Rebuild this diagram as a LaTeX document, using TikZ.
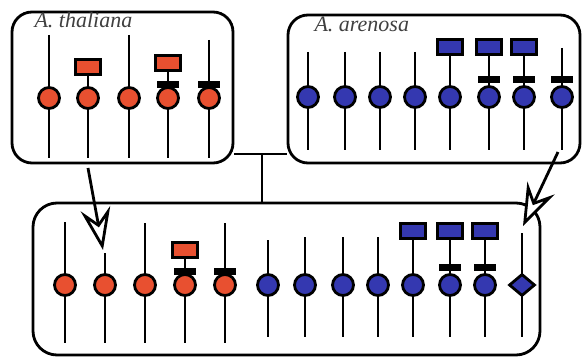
\documentclass[tikz,border=0pt]{standalone}
\usepackage{fontspec}
\setmainfont{Liberation Serif}
\usetikzlibrary{arrows.meta,shapes.geometric}
\definecolor{budred}{RGB}{232,80,48}
\definecolor{budblue}{RGB}{52,56,176}

\begin{document}
\begin{tikzpicture}[x=1pt,y=-1pt,
  panel/.style={draw,line width=2.8pt,rounded corners=20pt,inner sep=0pt},
  tag/.style={anchor=base west,text=black!75,font=\fontsize{22}{24}\selectfont\itshape},
  stalk/.style={line width=2.4pt},
  redbud/.style={draw,circle,line width=2.8pt,fill=budred,minimum size=21pt,inner sep=0pt},
  bluebud/.style={redbud,fill=budblue},
  redflag/.style={draw,rectangle,line width=2.4pt,fill=budred,minimum width=25pt,minimum height=15pt,inner sep=0pt},
  blueflag/.style={redflag,fill=budblue},
  bar/.style={fill=black,rectangle,minimum width=22pt,minimum height=7pt,inner sep=0pt},
  cross/.style={line width=2.8pt,-{Stealth[length=42pt,width=30pt,inset=15pt,fill=white]}}]
	\useasboundingbox (0,0) rectangle (583,358);
	% parents and hybrid
	\node[panel,minimum width=221pt,minimum height=151pt] (thal) at (122.5,87.5) {};
	\node[panel,minimum width=292pt,minimum height=148pt] (aren) at (434,89) {};
	\node[panel,minimum width=507pt,minimum height=152pt,rounded corners=24pt] (hyb) at (286.5,279) {};
	\node[tag] (thallab) at (31,28) {A. thaliana};
	\node[tag] (arenlab) at (311,32) {A. arenosa};
	\coordinate (jn) at (262,154);
	\draw[stalk] (thal.east |- jn) -- (aren.west |- jn);
	\draw[stalk] (jn) -- (jn |- hyb.north);
	% flags
	\node[redflag] (tf2) at (88,67) {};
	\node[redflag] (tf4) at (168,63) {};
	\node[blueflag] (af5) at (450,47) {};
	\node[blueflag] (af6) at (489,47) {};
	\node[blueflag] (af7) at (524,47) {};
	\node[redflag] (hf4) at (185,250) {};
	\node[blueflag] (hf10) at (413,231) {};
	\node[blueflag] (hf11) at (450,231) {};
	\node[blueflag] (hf12) at (485,231) {};
	% stalks
	\draw[stalk] (49,35) -- (49,158);
	\draw[stalk] (tf2.south) -- (88,158);
	\draw[stalk] (129,35) -- (129,158);
	\draw[stalk] (tf4.south) -- (168,158);
	\draw[stalk] (209,40) -- (209,158);
	\draw[stalk] (308,52) -- (308,150);
	\draw[stalk] (345,52) -- (345,150);
	\draw[stalk] (380,52) -- (380,150);
	\draw[stalk] (415,52) -- (415,150);
	\draw[stalk] (af5.south) -- (450,150);
	\draw[stalk] (af6.south) -- (489,150);
	\draw[stalk] (af7.south) -- (524,150);
	\draw[stalk] (562,48) -- (562,150);
	\draw[stalk] (65,222) -- (65,343);
	\draw[stalk] (105,253) -- (105,343);
	\draw[stalk] (145,223) -- (145,343);
	\draw[stalk] (hf4.south) -- (185,343);
	\draw[stalk] (225,223) -- (225,343);
	\draw[stalk] (268,240) -- (268,337);
	\draw[stalk] (305,237) -- (305,337);
	\draw[stalk] (343,237) -- (343,337);
	\draw[stalk] (378,237) -- (378,337);
	\draw[stalk] (hf10.south) -- (413,337);
	\draw[stalk] (hf11.south) -- (450,337);
	\draw[stalk] (hf12.south) -- (485,337);
	\draw[stalk] (522,233) -- (522,337);
	% buds
	\node[redbud] (tb1) at (49,98) {};
	\node[redbud] (tb2) at (88,98) {};
	\node[redbud] (tb3) at (129,98) {};
	\node[redbud] (tb4) at (168,98) {};
	\node[redbud] (tb5) at (209,98) {};
	\node[bluebud] (ab1) at (308,97) {};
	\node[bluebud] (ab2) at (345,97) {};
	\node[bluebud] (ab3) at (380,97) {};
	\node[bluebud] (ab4) at (415,97) {};
	\node[bluebud] (ab5) at (450,97) {};
	\node[bluebud] (ab6) at (489,97) {};
	\node[bluebud] (ab7) at (524,97) {};
	\node[bluebud] (ab8) at (562,97) {};
	\node[redbud] (hb1) at (65,285) {};
	\node[redbud] (hb2) at (105,285) {};
	\node[redbud] (hb3) at (145,285) {};
	\node[redbud] (hb4) at (185,285) {};
	\node[redbud] (hb5) at (225,285) {};
	\node[bluebud] (hb6) at (268,285) {};
	\node[bluebud] (hb7) at (305,285) {};
	\node[bluebud] (hb8) at (343,285) {};
	\node[bluebud] (hb9) at (378,285) {};
	\node[bluebud] (hb10) at (413,285) {};
	\node[bluebud] (hb11) at (450,285) {};
	\node[bluebud] (hb12) at (485,285) {};
	\node[draw,diamond,line width=2.8pt,fill=budblue,minimum width=26pt,minimum height=22pt,inner sep=0pt] (hb13) at (522,285) {};
	% bars
	\node[bar] (tr4) at (168,85) {};
	\node[bar] (tr5) at (209,85) {};
	\node[bar] (ar6) at (489,80) {};
	\node[bar] (ar7) at (524,80) {};
	\node[bar] (ar8) at (562,80) {};
	\node[bar] (hr4) at (185,271) {};
	\node[bar] (hr5) at (225,271) {};
	\node[bar] (hr11) at (450,267) {};
	\node[bar] (hr12) at (485,267) {};
	% inheritance
	\coordinate (ta) at (88,168);
	\coordinate (ha) at (103,250);
	\coordinate (tb) at (558,152);
	\coordinate (hc) at (523,226);
	\draw[cross] (ta) -- (ha);
	\draw[cross] (tb) -- (hc);
\end{tikzpicture}
\end{document}
